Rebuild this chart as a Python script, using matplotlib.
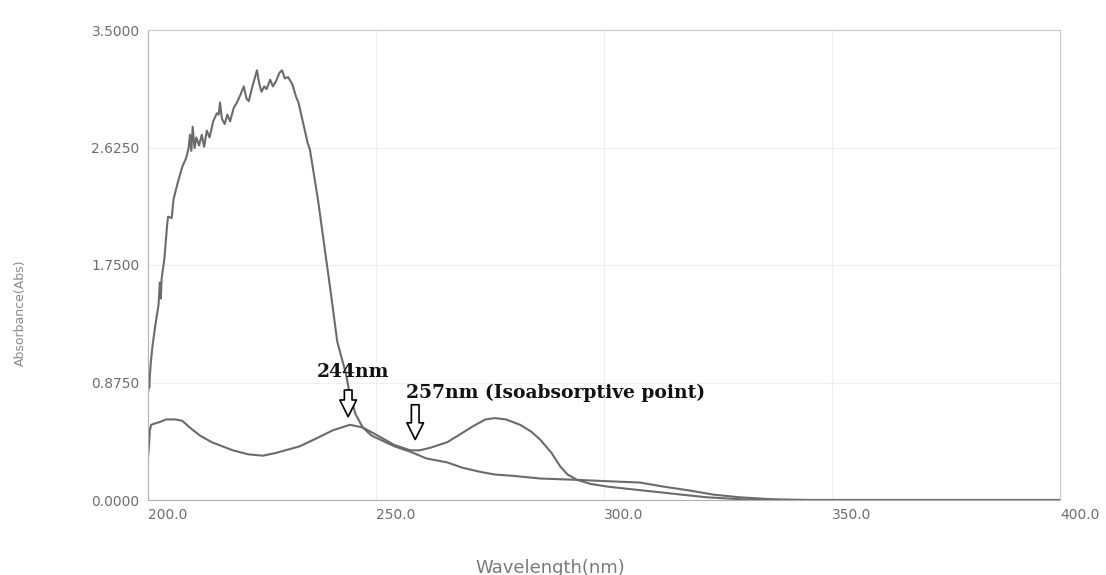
import matplotlib
matplotlib.use('Agg')
import matplotlib.pyplot as plt

# Spectrum 1 (the tall, noisy band)
wl_a = [200.0, 200.2, 200.3, 200.4, 200.6, 201.0, 201.6, 202.3, 202.6, 202.8,
        203.0, 203.6, 204.2, 204.4, 205.2, 205.6, 206.5, 207.5, 208.4, 208.9,
        209.2, 209.5, 209.8, 210.2, 210.6, 211.2, 211.8, 212.3, 212.9, 213.5,
        214.3, 215.1, 215.5, 215.8, 216.2, 216.8, 217.4, 218.0, 218.8, 219.5,
        220.3, 221.0, 221.6, 222.1, 222.9, 223.9, 224.4, 224.9, 225.5, 226.0,
        226.8, 227.4, 228.1, 228.8, 229.4, 230.0, 230.7, 231.6, 232.5, 233.0,
        234.0, 235.0, 235.5, 236.5, 237.3, 238.8, 240.1, 241.5, 243.4, 244.3,
        245.5, 247.1, 249.0, 250.9, 254.0, 257.5, 261.0, 265.6, 269.0, 272.8,
        276.0, 280.0, 286.0, 294.1, 300.7, 307.9, 313.0, 318.9, 324.0, 329.8,
        337.1, 345.0, 400.0]
abs_a = [0.80, 0.86, 0.84, 0.92, 1.02, 1.15, 1.30, 1.45, 1.62, 1.50,
         1.65, 1.80, 2.05, 2.11, 2.10, 2.24, 2.36, 2.48, 2.55, 2.62,
         2.72, 2.60, 2.78, 2.62, 2.70, 2.64, 2.72, 2.63, 2.75, 2.70,
         2.82, 2.88, 2.87, 2.96, 2.84, 2.80, 2.87, 2.82, 2.92, 2.96,
         3.02, 3.08, 2.99, 2.97, 3.08, 3.20, 3.10, 3.04, 3.08, 3.06,
         3.13, 3.08, 3.12, 3.18, 3.20, 3.14, 3.15, 3.10, 3.00, 2.96,
         2.81, 2.66, 2.61, 2.40, 2.23, 1.86, 1.54, 1.18, 0.94, 0.78,
         0.64, 0.54, 0.48, 0.45, 0.40, 0.36, 0.31, 0.28, 0.24, 0.21,
         0.19, 0.18, 0.16, 0.15, 0.14, 0.13, 0.10, 0.07, 0.04, 0.02,
         0.005, 0.0, 0.0]

# Spectrum 2 (two bands, 244 nm and ~276 nm)
wl_b = [200.0, 200.2, 200.4, 200.7, 201.5, 202.5, 204.0, 206.0, 207.5, 209.5,
        211.4, 214.0, 218.6, 222.0, 225.2, 228.0, 233.3, 237.0, 240.6, 244.3,
        247.1, 250.9, 254.0, 257.5, 259.6, 262.0, 265.6, 268.5, 271.3, 274.0,
        276.1, 278.5, 281.6, 284.0, 286.0, 288.5, 290.4, 292.0, 294.1, 297.0,
        300.7, 306.0, 311.6, 317.0, 322.6, 331.4, 340.0, 400.0]
abs_b = [0.32, 0.40, 0.52, 0.56, 0.57, 0.58, 0.60, 0.60, 0.59, 0.53,
         0.48, 0.43, 0.37, 0.34, 0.33, 0.35, 0.40, 0.46, 0.52, 0.56,
         0.54, 0.47, 0.41, 0.37, 0.37, 0.39, 0.43, 0.49, 0.55, 0.60,
         0.61, 0.60, 0.56, 0.51, 0.45, 0.35, 0.25, 0.19, 0.15, 0.12,
         0.10, 0.08, 0.06, 0.04, 0.02, 0.003, 0.0, 0.0]

x_ticks = [200.0, 250.0, 300.0, 350.0, 400.0]
y_ticks = [0.0, 0.875, 1.75, 2.625, 3.5]

fig = plt.figure(figsize=(11.06, 5.75), dpi=100)
ax = fig.add_axes([148 / 1106, 75 / 575, 912 / 1106, 470 / 575])

line_col = '#6b6b6b'
ax.plot(wl_a, abs_a, color=line_col, lw=1.5)
ax.plot(wl_b, abs_b, color=line_col, lw=1.5)

ax.set_xlim(200, 400)
ax.set_ylim(0, 3.5)
ax.set_xticks(x_ticks)
ax.set_xticklabels([f'{v:.1f}' for v in x_ticks], ha='left')
ax.set_yticks(y_ticks)
ax.set_yticklabels([f'{v:.4f}' for v in y_ticks])
ax.tick_params(length=0, labelsize=10, labelcolor='#6e6e6e', pad=6)
ax.grid(True, color='#efefef', lw=0.8)
ax.set_axisbelow(True)
for side in ['top', 'right']:
    ax.spines[side].set_color('#c8c8c8')
for side in ['left', 'bottom']:
    ax.spines[side].set_color('#b0b0b0')

fig.text(20 / 1106, 262 / 575, 'Absorbance(Abs)', rotation=90, ha='center', va='center',
         fontsize=9, color='#8a8a8a')
fig.text(550 / 1106, 2 / 575, 'Wavelength(nm)', ha='center', va='baseline',
         fontsize=13, color='#7a7a7a')

# annotations
arrow = dict(arrowstyle='simple,head_width=1.2,head_length=1.2,tail_width=0.55',
             fc='white', ec='black', lw=1.2)
ax.annotate('', xy=(243.9, 0.60), xytext=(243.9, 0.84), arrowprops=arrow)
ax.annotate('', xy=(258.6, 0.43), xytext=(258.6, 0.73), arrowprops=arrow)
ax.text(237.1, 0.95, '244nm', fontsize=13.5, fontweight='bold', family='DejaVu Serif',
        va='center', ha='left', color='#111111')
ax.text(256.6, 0.80, '257nm (Isoabsorptive point)', fontsize=13.5, fontweight='bold',
        family='DejaVu Serif', va='center', ha='left', color='#111111')

fig.savefig('out.png', dpi=100)
